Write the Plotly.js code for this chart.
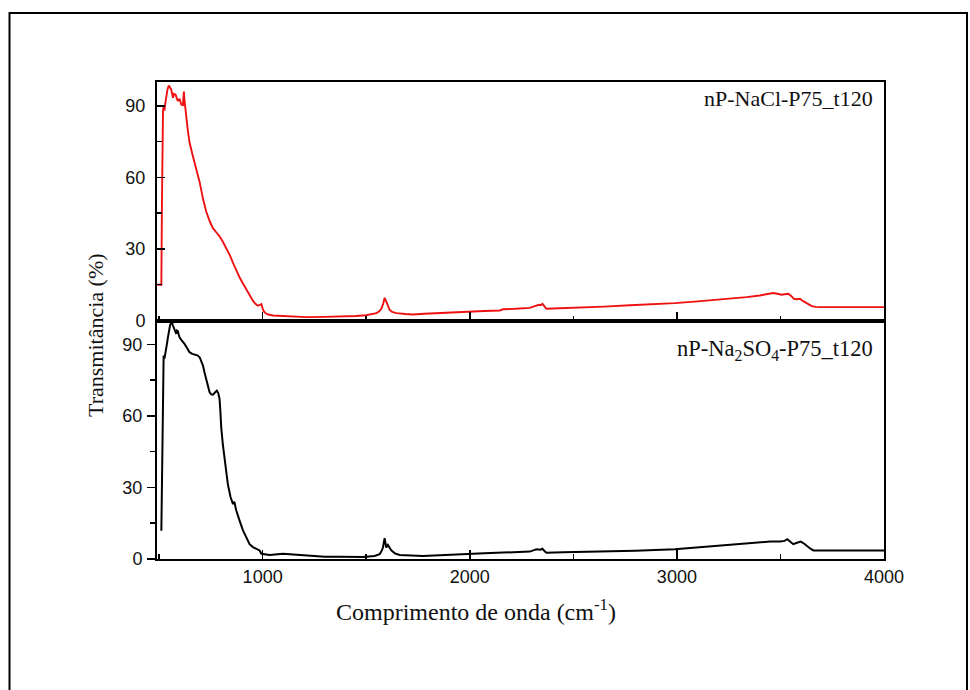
<!DOCTYPE html>
<html>
<head>
<meta charset="utf-8">
<script src="https://cdn.plot.ly/plotly-3.0.1.min.js"></script>
<style>
  html, body { margin: 0; padding: 0; background: #fff; }
  #chart { width: 970px; height: 690px; }
</style>
</head>
<body>
<div id="chart"></div>
<script>
// nP-NaCl-P75_t120 (red, top panel)
const naclX = [492,511,514,516,519,522,526,530,535,541,547,553,559,563,567,572,580,586,591,599,603,607,612,615,618,620,622,625,631,640,647,660,671,685,696,712,728,745,760,776,792,808,825,841,857,873,889,905,921,937,953,965,977,985,994,1000,1005,1015,1026,1050,1082,1150,1211,1300,1372,1450,1500,1530,1549,1562,1573,1582,1589,1594,1600,1607,1613,1625,1646,1690,1726,1780,1838,1920,1992,2070,2145,2161,2220,2290,2310,2322,2335,2342,2351,2360,2370,2400,2531,2650,2773,2880,2990,3100,3208,3280,3337,3400,3440,3465,3485,3506,3520,3538,3552,3565,3580,3594,3610,3630,3651,3670,3691,3800,3900,4000];
const naclY = [15,15,50,84,88,90,88,91,94,97,98.5,97.5,96.8,95,93.4,95,94.7,93,92,93,91.5,90.6,90.5,90,94,96,93,90,85.8,79,74.7,70,66.4,62,58,51,45.6,41.5,38.7,37,35.3,33,30.4,27.5,24.2,21,18,15.5,13.1,10.5,8.3,7,6.2,6.5,6.9,5,3.9,3,2.5,2.1,1.9,1.6,1.4,1.5,1.6,1.9,2.2,2.6,3.1,3.8,4.9,7,9.5,8.5,7,5.5,4.5,3.6,3.1,2.7,2.5,2.8,3.1,3.5,3.9,4.0,4.2,4.7,4.9,5.3,5.9,6.4,6.6,6.4,7.0,6.0,4.9,5.0,5.3,5.8,6.4,6.8,7.3,8.0,8.7,9.2,9.8,10.5,11.2,11.5,11.2,10.8,11.0,11.2,10.3,9.1,8.9,9.1,8.1,7.0,6.0,5.7,5.6,5.6,5.6,5.6];

// nP-Na2SO4-P75_t120 (black, bottom panel)
const so4X = [511,513,516,518,520,522,526,531,535,538,543,547,553,559,563,567,575,583,587,591,595,599,610,623,635,647,660,671,685,696,704,712,720,728,736,744,752,760,770,779,786,792,796,800,808,816,824,832,845,850,857,861,865,872,880,889,905,921,937,953,965,977,985,994,1010,1034,1098,1130,1180,1243,1300,1372,1485,1540,1565,1575,1581,1589,1593,1597,1605,1613,1621,1640,1662,1774,1880,1984,2070,2161,2240,2290,2310,2322,2340,2351,2362,2370,2450,2660,2800,2990,3100,3224,3300,3385,3450,3498,3520,3533,3548,3562,3580,3598,3612,3627,3645,3659,3700,3850,4000];
const so4Y = [11.8,30,48,70.6,78,85.3,84,86,88,90.2,93,95.8,98,99.3,99,97.9,96,94.4,95.8,95.5,94,93,91.5,90.2,88.5,86.7,86,85.7,85.4,84.6,83,81.1,78,75.5,72.5,69.9,69,68.9,69.8,70.6,69.5,67.1,62,55.2,48,42.6,37,31.4,26,24.5,23,24,23.5,20.5,18,16,12,8.9,6.2,5,4.5,4.1,3.6,2.2,2,1.7,2.2,2.0,1.5,1.1,0.9,0.9,0.8,1.3,2,3.5,4.8,8.7,6,4.8,5.9,4.8,3.6,2.3,1.7,1.3,1.8,2.2,2.4,2.7,2.9,3.1,3.7,4.1,3.9,4.3,3.2,2.6,2.8,3.1,3.5,4.1,4.9,5.9,6.5,7.1,7.3,7.3,7.6,8.3,7.2,6.2,6.8,7.3,6.6,5.5,4.3,3.6,3.6,3.6,3.6];

const xTickVals = [1000, 2000, 3000, 4000];
const yTickVals = [0, 30, 60, 90];
const label1 = 'nP-NaCl-P75_t120';
const label2 = 'nP-Na<sub>2</sub>SO<sub>4</sub>-P75_t120';
const xTitle = 'Comprimento de onda (cm<sup>-1</sup>)';
const yTitle = 'Transmitância (%)';

const tickFont = { family: 'Liberation Sans, Arial, sans-serif', size: 18, color: '#111' };
const serif = 'Liberation Serif, Times New Roman, serif';

const traces = [
  { x: so4X, y: so4Y, xaxis: 'x', yaxis: 'y', type: 'scatter', mode: 'lines',
    line: { color: '#000000', width: 2 }, hoverinfo: 'skip', showlegend: false },
  { x: naclX, y: naclY, xaxis: 'x2', yaxis: 'y2', type: 'scatter', mode: 'lines',
    line: { color: '#ee1111', width: 1.9 }, hoverinfo: 'skip', showlegend: false }
];

const axisCommon = {
  showgrid: false, zeroline: false, showline: true, mirror: true,
  linecolor: '#000', linewidth: 2, tickcolor: '#000', tickwidth: 1.5
};

const layout = {
  width: 970, height: 690,
  margin: { l: 157, r: 86, t: 82, b: 131 },
  paper_bgcolor: '#fff', plot_bgcolor: '#fff',
  showlegend: false,
  xaxis: Object.assign({}, axisCommon, {
    domain: [0, 1], anchor: 'y', range: [490, 4000],
    tickvals: xTickVals, ticks: 'inside', ticklen: 9,
    minor: { dtick: 500, tick0: 0, ticks: 'inside', ticklen: 5, tickwidth: 1.5, tickcolor: '#000' },
    tickfont: tickFont
  }),
  xaxis2: Object.assign({}, axisCommon, {
    domain: [0, 1], anchor: 'y2', matches: 'x', range: [490, 4000],
    tickvals: xTickVals, ticks: 'inside', ticklen: 9, showticklabels: false,
    minor: { dtick: 500, tick0: 0, ticks: 'inside', ticklen: 5, tickwidth: 1.5, tickcolor: '#000' }
  }),
  yaxis: Object.assign({}, axisCommon, {
    domain: [0, 0.5], anchor: 'x', range: [0, 100],
    tickvals: yTickVals, ticks: 'outside', ticklen: 8,
    minor: { dtick: 15, tick0: 0, ticks: 'outside', ticklen: 5, tickwidth: 1.5, tickcolor: '#000' },
    tickfont: tickFont, ticklabelstandoff: 1
  }),
  yaxis2: Object.assign({}, axisCommon, {
    domain: [0.5, 1], anchor: 'x2', range: [0, 100],
    tickvals: yTickVals, ticks: 'inside', ticklen: 8,
    minor: { dtick: 15, tick0: 0, ticks: 'inside', ticklen: 5, tickwidth: 1.5, tickcolor: '#000' },
    tickfont: tickFont, ticklabelstandoff: 6
  }),
  annotations: [
    { text: label1, xref: 'paper', yref: 'paper', x: 0.988, y: (559 - 98) / 477,
      xanchor: 'right', yanchor: 'middle', showarrow: false,
      font: { family: serif, size: 22, color: '#111' } },
    { text: label2, xref: 'paper', yref: 'paper', x: 0.988, y: (559 - 350) / 477,
      xanchor: 'right', yanchor: 'middle', showarrow: false,
      font: { family: serif, size: 22.5, color: '#111' } },
    { text: xTitle, xref: 'paper', yref: 'paper', x: (476 - 157) / 727, y: -(610 - 559) / 477,
      xanchor: 'center', yanchor: 'middle', showarrow: false,
      font: { family: serif, size: 24, color: '#111' } },
    { text: yTitle, xref: 'paper', yref: 'paper', x: (95 - 157) / 727, y: (559 - 335) / 477,
      xanchor: 'center', yanchor: 'middle', showarrow: false, textangle: -90,
      font: { family: serif, size: 22, color: '#111' } }
  ],
  shapes: [
    { type: 'rect', xref: 'paper', yref: 'paper',
      x0: (9.5 - 157) / 727, x1: (967 - 157) / 727,
      y0: -(720 - 559) / 477, y1: (559 - 13) / 477,
      line: { color: '#000', width: 2 }, fillcolor: 'rgba(0,0,0,0)' }
  ]
};

Plotly.newPlot('chart', traces, layout, { staticPlot: true, displayModeBar: false });
</script>
</body>
</html>
